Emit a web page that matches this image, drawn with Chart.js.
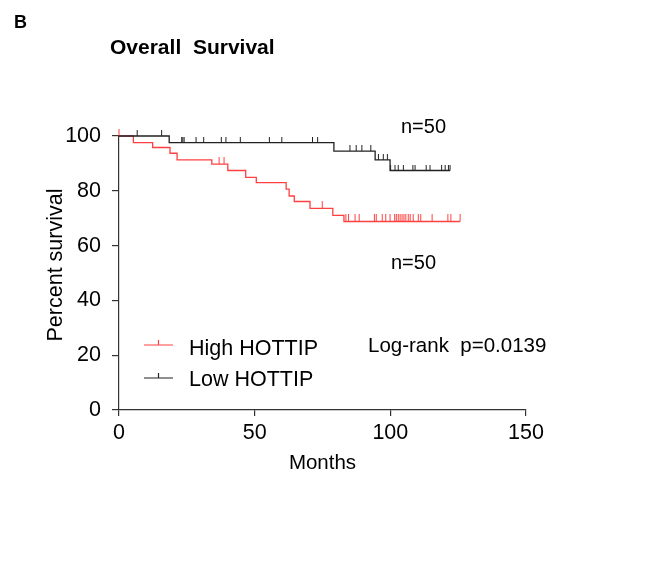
<!DOCTYPE html>
<html>
<head>
<meta charset="utf-8">
<script src="https://cdn.jsdelivr.net/npm/chart.js@4"></script>
<style>
  html, body { margin: 0; padding: 0; background: #fff; }
  #wrap { width: 650px; height: 570px; position: relative; }
</style>
</head>
<body>
<div id="wrap"><canvas id="kmChart" width="650" height="570"></canvas></div>
<script>
// Dados
const monthTicks = [0, 50, 100, 150];
const percentTicks = [0, 20, 40, 60, 80, 100];

const highMonths = [0, 5.3, 12.4, 18.8, 21.4, 34.2, 40.1, 46.7, 50.6, 61.6, 62.7, 64.6, 70.4, 78.8, 82.9];
const highSurvival = [100, 97.6, 95.8, 93.7, 91.3, 89.7, 87.4, 84.9, 83.0, 80.6, 78.1, 76.1, 73.6, 71.0, 68.8];
const highLastFollowUp = 125.7;
const highCensored = [0, 36.9, 38.7, 74.9, 83.6, 84.6, 87.0, 88.5, 94.1, 94.8, 97.0, 98.3, 99.9, 101.6, 102.2,
  102.9, 103.6, 104.3, 105.0, 105.7, 106.6, 107.3, 108.4, 110.3, 111.2, 115.4, 121.2, 122.3, 125.7];

const lowMonths = [0, 18.5, 79.2, 94.4, 99.9];
const lowSurvival = [100, 97.6, 94.5, 91.3, 87.4];
const lowLastFollowUp = 122;
const lowCensored = [6.7, 15.7, 23.1, 23.5, 24.0, 28.4, 31.2, 37.7, 39.4, 44.7, 55.4, 60.0, 71.3, 73.2,
  85.1, 87.4, 89.5, 92.8, 95.6, 97.4, 98.9, 100.1, 101.7, 102.9, 104.8, 108.3, 109.1, 113.2, 114.6,
  118.9, 120.2, 121.4, 122];

const FONT = '"Liberation Sans", Arial, sans-serif';
const RED = '#ff4040';
const BLACK = '#222';

// curva em degraus
function stepPoints(months, surv, last) {
    const pts = months.map((m, i) => ({ x: m, y: surv[i] }));
    pts.push({ x: last, y: surv[surv.length - 1] });
    return pts;
}

function survivalAt(months, surv, t) {
    let s = surv[0];
    for (let i = 0; i < months.length; i++) {
        if (months[i] <= t) s = surv[i];
    }
    return s;
}

function censorPoints(months, surv, times) {
    return times.map(t => ({ x: t, y: survivalAt(months, surv, t) }));
}

// marcador de censura: traço vertical acima da linha
function tickMark(color, h) {
    const c = document.createElement('canvas');
    c.width = 3;
    c.height = h * 2;
    const g = c.getContext('2d');
    g.strokeStyle = color;
    g.lineWidth = 1;
    g.beginPath();
    g.moveTo(1.5, 0);
    g.lineTo(1.5, h);
    g.stroke();
    return c;
}

const annotations = {
    id: 'annotations',
    afterDraw(chart) {
        const ctx = chart.ctx;
        ctx.save();
        ctx.fillStyle = '#000';
        ctx.textBaseline = 'alphabetic';
        ctx.font = 'bold 18px ' + FONT;
        ctx.fillText('B', 14, 28);
        ctx.font = 'bold 21px ' + FONT;
        ctx.fillText('Overall  Survival', 110, 54);

        // título do eixo y
        ctx.save();
        ctx.translate(62, 265);
        ctx.rotate(-Math.PI / 2);
        ctx.textAlign = 'center';
        ctx.font = '21.5px ' + FONT;
        ctx.fillText('Percent survival', 0, 0);
        ctx.restore();

        ctx.font = '20px ' + FONT;
        ctx.fillText('n=50', 401, 133);
        ctx.fillText('n=50', 391, 269);
        ctx.font = '20.5px ' + FONT;
        ctx.fillText('Log-rank  p=0.0139', 368, 352);

        // legenda
        ctx.font = '21.5px ' + FONT;
        ctx.lineWidth = 1.2;
        ctx.strokeStyle = RED;
        ctx.beginPath();
        ctx.moveTo(144, 345); ctx.lineTo(173, 345);
        ctx.moveTo(158.5, 345); ctx.lineTo(158.5, 340);
        ctx.stroke();
        ctx.fillText('High HOTTIP', 189, 355);

        ctx.strokeStyle = BLACK;
        ctx.beginPath();
        ctx.moveTo(144, 378); ctx.lineTo(173, 378);
        ctx.moveTo(158.5, 378); ctx.lineTo(158.5, 373);
        ctx.stroke();
        ctx.fillText('Low HOTTIP', 189, 386);
        ctx.restore();
    }
};

document.addEventListener('DOMContentLoaded', function() {
    const ctx = document.getElementById('kmChart').getContext('2d');
    new Chart(ctx, {
        type: 'line',
        data: {
            datasets: [
                {
                    label: 'Low HOTTIP',
                    data: stepPoints(lowMonths, lowSurvival, lowLastFollowUp),
                    borderColor: BLACK,
                    borderWidth: 1.3,
                    stepped: 'before',
                    pointRadius: 0,
                    clip: false
                },
                {
                    label: 'Low HOTTIP censored',
                    type: 'scatter',
                    data: censorPoints(lowMonths, lowSurvival, lowCensored),
                    pointStyle: tickMark(BLACK, 6),
                    pointRadius: 3,
                    showLine: false,
                    clip: false
                },
                {
                    label: 'High HOTTIP',
                    data: stepPoints(highMonths, highSurvival, highLastFollowUp),
                    borderColor: RED,
                    borderWidth: 1.3,
                    stepped: 'before',
                    pointRadius: 0,
                    clip: false
                },
                {
                    label: 'High HOTTIP censored',
                    type: 'scatter',
                    data: censorPoints(highMonths, highSurvival, highCensored),
                    pointStyle: tickMark(RED, 7),
                    pointRadius: 3,
                    showLine: false,
                    clip: false
                }
            ]
        },
        options: {
            responsive: false,
            animation: false,
            devicePixelRatio: 1,
            layout: {
                padding: { left: 0, top: 136, right: 124, bottom: 0 }
            },
            plugins: {
                legend: { display: false },
                tooltip: { enabled: false }
            },
            scales: {
                x: {
                    type: 'linear',
                    min: monthTicks[0],
                    max: monthTicks[monthTicks.length - 1],
                    afterBuildTicks: s => { s.ticks = monthTicks.map(v => ({ value: v })); },
                    afterFit: s => { s.height = 160; },
                    border: { color: '#333', width: 1.2 },
                    grid: { drawOnChartArea: false, tickLength: 6, color: '#333', lineWidth: 1.2 },
                    ticks: { color: '#000', padding: 4, font: { family: FONT, size: 21.5 } },
                    title: {
                        display: true,
                        text: 'Months',
                        color: '#000',
                        font: { family: FONT, size: 20.5 },
                        padding: { bottom: 94 }
                    }
                },
                y: {
                    min: percentTicks[0],
                    max: percentTicks[percentTicks.length - 1],
                    afterBuildTicks: s => { s.ticks = percentTicks.map(v => ({ value: v })); },
                    afterFit: s => { s.width = 119; },
                    border: { color: '#333', width: 1.2 },
                    grid: { drawOnChartArea: false, tickLength: 7, color: '#333', lineWidth: 1.2 },
                    ticks: { color: '#000', padding: 11, font: { family: FONT, size: 21.5 } },
                    title: { display: false }
                }
            }
        },
        plugins: [annotations]
    });
});
</script>
</body>
</html>
